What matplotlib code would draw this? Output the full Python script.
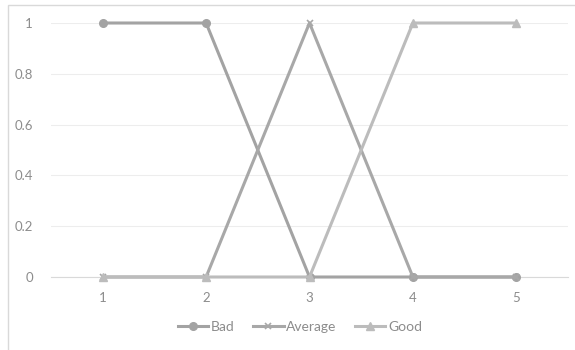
#Fuzzy membership style line chart: Bad / Average / Good over categories 1-5

import matplotlib.pyplot as plt
from matplotlib.patches import Rectangle

categories = ['1', '2', '3', '4', '5']
bad = [1, 1, 0, 0, 0]
average = [0, 0, 1, 0, 0]
good = [0, 0, 0, 1, 1]
yticks = [0, 0.2, 0.4, 0.6, 0.8, 1]
yticklabels = ['0', '0.2', '0.4', '0.6', '0.8', '1']

plt.rcParams['font.family'] = ['Lato', 'DejaVu Sans']
text_col = '#8c8c8c'

fig = plt.figure(figsize=(5.75, 3.5), dpi=100)
# plot area in pixels: x 51..568, y 23 (value 1) .. 277 (value 0)
ax = fig.add_axes([51/575, (350-277)/350, (568-51)/575, (277-23)/350])

x = range(len(categories))
ax.plot(x, bad, color='#a3a3a3', lw=2.2, marker='o', ms=5.5, label='Bad', zorder=3)
ax.plot(x, average, color='#a8a8a8', lw=2.2, marker='x', ms=5, mew=1.2, label='Average', zorder=3)
ax.plot(x, good, color='#bcbcbc', lw=2.2, marker='^', ms=6, label='Good', zorder=3)

ax.set_xlim(-0.5, len(categories) - 0.5)
ax.set_ylim(0, 1)
ax.set_xticks(list(x))
ax.set_xticklabels(categories)
ax.set_yticks(yticks)
ax.set_yticklabels(yticklabels)
ax.tick_params(length=0, colors=text_col, labelsize=9.5)
ax.tick_params(axis='x', pad=11)
ax.tick_params(axis='y', pad=13)
ax.grid(axis='y', color='#ededed', lw=0.8)
ax.set_axisbelow(True)
for s in ['top', 'right', 'left']:
    ax.spines[s].set_visible(False)
ax.spines['bottom'].set_color('#d9d9d9')
ax.spines['bottom'].set_linewidth(0.8)
for ln in ax.lines:
    ln.set_clip_on(False)

leg = ax.legend(loc='center', bbox_to_anchor=(300/575, (350-327)/350),
                bbox_transform=fig.transFigure, ncol=3, frameon=False,
                fontsize=10, handlelength=2.2, columnspacing=1.3,
                handletextpad=0.2, labelcolor=text_col)

# chart border (cropped on right and bottom in the reference)
fig.patches.append(Rectangle((8/575, -0.1), 1.2, (345)/350 + 0.1,
                             transform=fig.transFigure, fill=False,
                             edgecolor='#d9d9d9', lw=1.0))

fig.savefig('out.png', dpi=100)
